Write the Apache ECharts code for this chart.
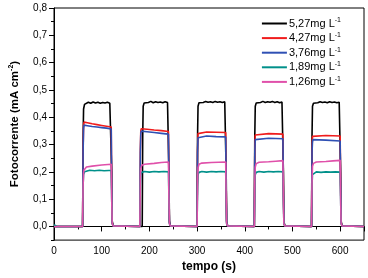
<!DOCTYPE html>
<html>
<head>
<meta charset="utf-8">
<script src="https://cdn.jsdelivr.net/npm/echarts@6/dist/echarts.min.js"></script>
<style>
  html, body { margin: 0; padding: 0; background: #fff; }
  #chart { width: 368px; height: 278px; }
</style>
</head>
<body>
<div id="chart"></div>
<script>
// legend names (superscript -1 added in formatter)
var names = ['5,27mg L', '4,27mg L', '3,76mg L', '1,89mg L', '1,26mg L'];
var colors = ['#000000', '#f01c1c', '#2f50b4', '#00908a', '#e050aa'];

var yTicks = [0, 0.1, 0.2, 0.3, 0.4, 0.5, 0.6, 0.7, 0.8];
var yMinor = [-0.05, 0.05, 0.15, 0.25, 0.35, 0.45, 0.55, 0.65, 0.75];

// [tempo (s), fotocorrente (mA cm-2)]
var c527 = [
  [0,0],[60,0],[61,0.32],[62,0.43],[64,0.447],[67,0.452],[72,0.455],[77,0.451],[82,0.456],[87,0.452],[92,0.455],[97,0.451],[102,0.454],[107,0.452],[112,0.455],[117,0.451],[120,0.452],[121,0.2],[122,0.02],[124,0.002],
  [185,0],[186,0.33],[187,0.44],[189,0.452],[193,0.457],[198,0.454],[203,0.458],[208,0.453],[213,0.457],[218,0.454],[223,0.456],[228,0.453],[233,0.457],[238,0.454],[240,0.455],[241,0.2],[242,0.02],[244,0.002],
  [300,0],[301,0.33],[302,0.44],[304,0.453],[308,0.457],[313,0.454],[318,0.458],[323,0.455],[328,0.457],[333,0.454],[338,0.458],[343,0.455],[348,0.457],[353,0.454],[358,0.457],[360,0.455],[361,0.2],[362,0.02],[364,0.002],
  [420,0],[421,0.33],[422,0.44],[424,0.452],[428,0.457],[433,0.454],[438,0.458],[443,0.454],[448,0.457],[453,0.455],[458,0.458],[463,0.454],[468,0.457],[473,0.453],[478,0.456],[480,0.455],[481,0.2],[482,0.02],[484,0.002],
  [540,0],[541,0.33],[542,0.44],[544,0.451],[548,0.456],[553,0.453],[558,0.457],[563,0.454],[568,0.456],[573,0.453],[578,0.457],[583,0.454],[588,0.456],[593,0.453],[598,0.455],[600,0.454],[601,0.2],[602,0.02],[604,0.002],
  [650,0]
];
var c427 = [
  [0,0],[60,0],[61,0.28],[62,0.37],[63,0.382],[70,0.38],[80,0.376],[90,0.373],[100,0.37],[110,0.367],[120,0.364],[121,0.15],[122,0.015],[124,0.002],
  [180,0],[181,0.28],[182,0.35],[183,0.358],[195,0.356],[210,0.353],[225,0.351],[240,0.348],[241,0.15],[242,0.015],[244,0.002],
  [300,0],[301,0.28],[302,0.34],[303,0.346],[320,0.346],[340,0.345],[360,0.344],[361,0.15],[362,0.015],[364,0.002],
  [420,0],[421,0.28],[422,0.335],[423,0.341],[450,0.34],[480,0.338],[481,0.15],[482,0.015],[484,0.002],
  [540,0],[541,0.28],[542,0.33],[543,0.334],[570,0.333],[600,0.331],[601,0.15],[602,0.015],[604,0.002],
  [650,0]
];
var c376 = [
  [0,0],[60,0],[61,0.27],[62,0.36],[63,0.371],[70,0.369],[80,0.366],[90,0.364],[100,0.362],[110,0.36],[120,0.357],[121,0.15],[122,0.015],[124,0.002],
  [180,0],[181,0.27],[182,0.34],[183,0.349],[195,0.347],[210,0.344],[225,0.341],[240,0.338],[241,0.15],[242,0.015],[244,0.002],
  [300,0],[301,0.27],[302,0.325],[303,0.332],[320,0.331],[340,0.329],[360,0.328],[361,0.15],[362,0.015],[364,0.002],
  [420,0],[421,0.27],[422,0.318],[423,0.325],[450,0.323],[480,0.321],[481,0.15],[482,0.015],[484,0.002],
  [540,0],[541,0.27],[542,0.31],[543,0.318],[570,0.316],[600,0.313],[601,0.15],[602,0.015],[604,0.002],
  [650,0]
];
var c189 = [
  [0,0.006],[4,0.004],[6,0],[60,0],[61,0.15],[62,0.19],[64,0.2],[68,0.204],[75,0.206],[85,0.204],[95,0.206],[105,0.204],[115,0.205],[120,0.205],[121,0.1],[122,0.01],[124,0.002],
  [180,0],[181,0.15],[182,0.19],[184,0.198],[190,0.201],[200,0.199],[210,0.201],[220,0.2],[230,0.201],[240,0.2],[241,0.1],[242,0.01],[244,0.002],
  [300,0],[301,0.15],[302,0.19],[304,0.198],[310,0.201],[320,0.199],[330,0.201],[340,0.2],[350,0.201],[360,0.2],[361,0.1],[362,0.01],[364,0.002],
  [420,0],[421,0.15],[422,0.19],[424,0.198],[430,0.201],[440,0.199],[450,0.201],[460,0.2],[470,0.201],[480,0.2],[481,0.1],[482,0.01],[484,0.002],
  [540,0],[541,0.15],[542,0.19],[544,0.197],[550,0.2],[560,0.198],[570,0.2],[580,0.199],[590,0.2],[600,0.199],[601,0.1],[602,0.01],[604,0.002],
  [650,0]
];
var c126 = [
  [0,0],[60,0],[61,0.15],[62,0.195],[63,0.207],[65,0.214],[68,0.218],[80,0.221],[100,0.225],[120,0.228],[121,0.1],[122,0.01],[124,0.002],
  [180,0],[181,0.16],[182,0.212],[184,0.224],[190,0.228],[210,0.231],[225,0.234],[240,0.236],[241,0.1],[242,0.01],[244,0.002],
  [300,0],[301,0.16],[302,0.215],[304,0.228],[310,0.232],[330,0.234],[345,0.235],[360,0.236],[361,0.1],[362,0.01],[364,0.002],
  [420,0],[421,0.16],[422,0.218],[424,0.23],[430,0.235],[450,0.237],[465,0.239],[480,0.241],[481,0.1],[482,0.01],[484,0.002],
  [540,0],[541,0.16],[542,0.22],[544,0.231],[550,0.236],[570,0.238],[585,0.24],[600,0.242],[601,0.1],[602,0.01],[604,0.002],
  [650,0]
];
var seriesData = [c527, c427, c376, c189, c126];

var chart = echarts.init(document.getElementById('chart'), null, { renderer: 'canvas' });
var font = 'Liberation Sans';

var series = [];
for (var i = 0; i < names.length; i++) {
  series.push({
    name: names[i],
    type: 'line',
    data: seriesData[i],
    symbol: 'none',
    color: colors[i],
    lineStyle: { width: 1.6, color: colors[i] },
    animation: false
  });
}

var option = {
  backgroundColor: '#ffffff',
  grid: {
    left: 50, right: 4, top: 8, bottom: 36,
    show: true, borderColor: '#000', borderWidth: 1
  },
  legend: {
    orient: 'vertical',
    right: 22, top: 12,
    itemWidth: 25, itemHeight: 12, itemGap: 2.6,
    data: names,
    itemStyle: { opacity: 0 },
    lineStyle: { width: 2 },
    formatter: function (name) { return '{a|' + name + '}{s|-1}'; },
    textStyle: {
      fontFamily: font, color: '#000', padding: [0, 0, 0, -3],
      rich: {
        a: { fontSize: 11, fontFamily: font, color: '#000' },
        s: { fontSize: 7, fontFamily: font, color: '#000', padding: [0, 0, 6, 0] }
      }
    }
  },
  xAxis: {
    type: 'value', min: 0, max: 650, interval: 100,
    name: 'tempo (s)', nameLocation: 'middle', nameGap: 14,
    nameTextStyle: { fontFamily: font, fontSize: 12, fontWeight: 'bold', color: '#000' },
    axisLine: { show: true, lineStyle: { color: '#000', width: 1 } },
    axisTick: { show: true, length: 5, lineStyle: { color: '#000' } },
    minorTick: { show: true, splitNumber: 2, length: 3, lineStyle: { color: '#000' } },
    axisLabel: { fontFamily: font, fontSize: 10, color: '#000', margin: 6,
      showMaxLabel: false },
    splitLine: { show: false }
  },
  yAxis: [{
    type: 'value', min: -0.05, max: 0.8,
    name: '{b|Fotocorrente (mA cm}{s|-2}{b|)}',
    nameLocation: 'middle', nameGap: 33,
    nameTextStyle: {
      rich: {
        b: { fontFamily: font, fontSize: 11.5, fontWeight: 'bold', color: '#000' },
        s: { fontFamily: font, fontSize: 7, fontWeight: 'bold', color: '#000', padding: [0, 0, 6, 0] }
      }
    },
    axisLine: { show: true, lineStyle: { color: '#000', width: 1 } },
    axisTick: { show: true, length: 5, customValues: yTicks, lineStyle: { color: '#000' } },
    axisLabel: { fontFamily: font, fontSize: 10, color: '#000', margin: 7,
      customValues: yTicks,
      formatter: function (v) { return v.toFixed(1).replace('.', ','); } },
    splitLine: { show: false }
  }, {
    type: 'value', min: -0.05, max: 0.8, position: 'left', offset: 0,
    axisLine: { show: false },
    axisTick: { show: true, length: 3, customValues: yMinor, lineStyle: { color: '#000' } },
    axisLabel: { show: false },
    splitLine: { show: false }
  }],
  series: series
};
chart.setOption(option);
</script>
</body>
</html>
